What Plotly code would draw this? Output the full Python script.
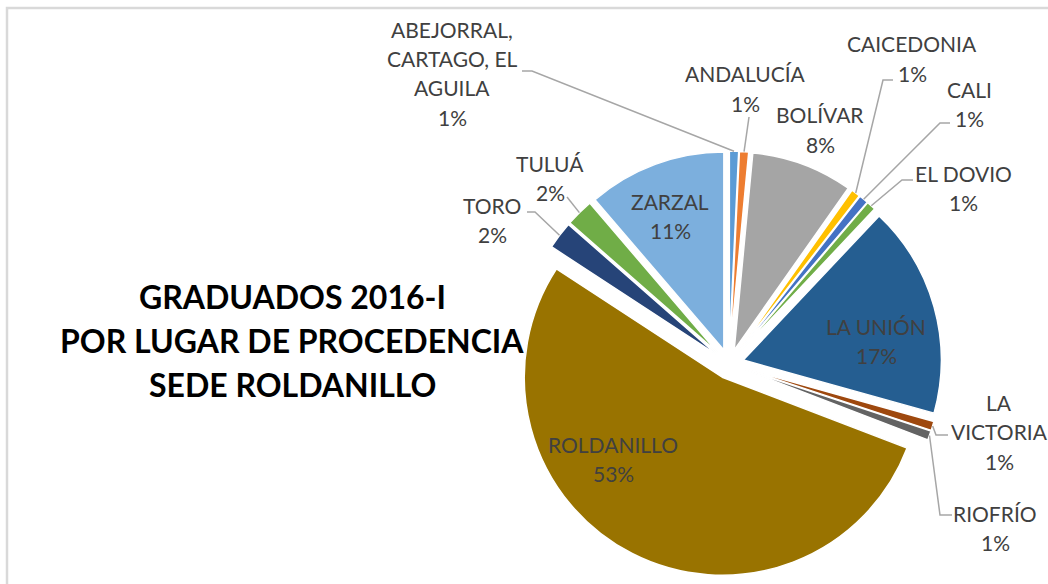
import math
import plotly.graph_objects as go

# datos: graduados 2016-I por lugar de procedencia, sede Roldanillo
lugares = ["ABEJORRAL, CARTAGO, EL AGUILA", "ANDALUCÍA", "BOLÍVAR", "CAICEDONIA", "CALI",
           "EL DOVIO", "LA UNIÓN", "LA VICTORIA", "RIOFRÍO", "ROLDANILLO", "TORO", "TULUÁ", "ZARZAL"]
graduados = [1, 1, 11, 1, 1, 1, 23, 1, 1, 71, 3, 3, 15]
colores = ["#5B9BD5", "#ED7D31", "#A5A5A5", "#FFC000", "#4472C4", "#70AD47", "#255E91",
           "#9E480E", "#636363", "#997300", "#264478", "#70AD47", "#7CAFDD"]

# como se parte el nombre en la etiqueta
lineas = {
    "ABEJORRAL, CARTAGO, EL AGUILA": ["ABEJORRAL,", "CARTAGO, EL", "AGUILA"],
    "LA VICTORIA": ["LA", "VICTORIA"],
}

W, H = 1048, 584
CX, CY, R, PULL = 729, 364, 198, 0.075

# posicion de la etiqueta (centro x, y de la primera linea) y codo de la linea guia
pos_etiqueta = {
    "ABEJORRAL, CARTAGO, EL AGUILA": (452, 29, [(522, 71), (532, 71)]),
    "ANDALUCÍA": (745, 74, [(749, 117)]),
    "BOLÍVAR": (820, 115, None),
    "CAICEDONIA": (912, 44, [(893, 80), (883, 80)]),
    "CALI": (969, 89, [(950, 123), (940, 123)]),
    "EL DOVIO": (963, 173, [(913, 180), (902, 180)]),
    "LA UNIÓN": (876, 326, None),
    "LA VICTORIA": (999, 402, [(948, 435), (936, 435)]),
    "RIOFRÍO": (995, 513, [(952, 515), (940, 515)]),
    "ROLDANILLO": (613, 444, None),
    "TORO": (492, 205, [(527, 212), (535, 212)]),
    "TULUÁ": (550, 163, [(567, 197)]),
    "ZARZAL": (670, 201, None),
}
LINEA = 29.5


def px(x, y):
    return x / W, 1 - y / H


total = sum(graduados)
rbox = R * (1 + PULL)

fig = go.Figure(go.Pie(
    labels=lugares, values=graduados, sort=False, direction="clockwise", rotation=0,
    marker=dict(colors=colores, line=dict(color="white", width=1.5)),
    pull=PULL, textinfo="none", hoverinfo="label+percent", showlegend=False,
    domain=dict(x=[(CX - rbox) / W, (CX + rbox) / W], y=[1 - (CY + rbox) / H, 1 - (CY - rbox) / H]),
))

anots = []
shapes = []
acum = 0
for nombre, v in zip(lugares, graduados):
    ang = math.radians(360 * (acum + v / 2) / total)
    acum += v
    cx_, cy_, codo = pos_etiqueta[nombre]
    txt = lineas.get(nombre, [nombre]) + [f"{round(100 * v / total)}%"]
    for i, t in enumerate(txt):
        x, y = px(cx_, cy_ + i * LINEA)
        anots.append(dict(x=x, y=y, xref="paper", yref="paper", text=t, showarrow=False,
                          xanchor="center", yanchor="middle",
                          font=dict(family="Lato", size=21, color="#404040")))
    if codo:
        borde = (CX + rbox * math.sin(ang), CY - rbox * math.cos(ang))
        pts = codo + [borde]
        path = "M " + " L ".join(f"{px(a, b)[0]},{px(a, b)[1]}" for a, b in pts)
        shapes.append(dict(type="path", path=path, xref="paper", yref="paper",
                           line=dict(color="#A6A6A6", width=1.5)))

titulo = ["GRADUADOS 2016-I", "POR LUGAR DE PROCEDENCIA", "SEDE ROLDANILLO"]
for i, t in enumerate(titulo):
    x, y = px(292, 296 + i * 44)
    anots.append(dict(x=x, y=y, xref="paper", yref="paper", text=f"<b>{t}</b>", showarrow=False,
                      xanchor="center", yanchor="middle",
                      font=dict(family="Lato", size=32, color="#000000")))

# marco del area del grafico
x0, y0 = px(7, 8)
shapes.append(dict(type="rect", xref="paper", yref="paper", x0=x0, y0=-0.1, x1=1.1, y1=y0,
                   line=dict(color="#D9D9D9", width=2.5), layer="below"))

fig.update_layout(
    width=W, height=H, margin=dict(l=0, r=0, t=0, b=0),
    paper_bgcolor="white", plot_bgcolor="white",
    annotations=anots, shapes=shapes,
)
fig.write_html("out.html", config={"displayModeBar": False},
               post_script="document.body.style.margin='0';")
